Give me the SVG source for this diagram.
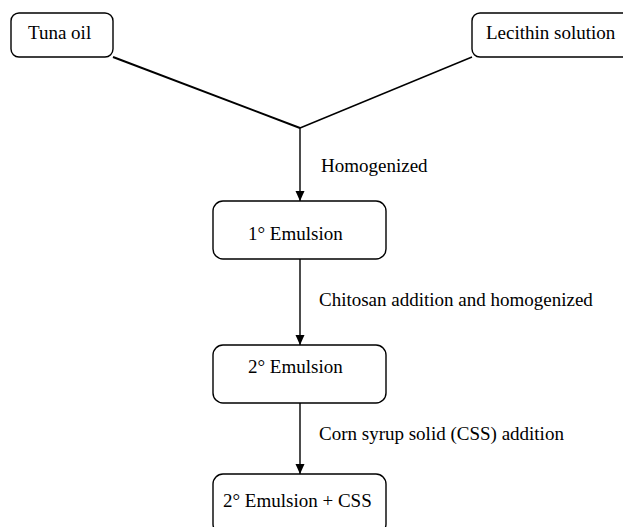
<svg xmlns="http://www.w3.org/2000/svg" width="623" height="527" viewBox="0 0 623 527">
<defs>
<style>
.box{fill:#fff;stroke:#000;stroke-width:1.4}
.t{font-family:"Liberation Serif","Times New Roman",serif;font-size:19px;fill:#000}
.ln{stroke:#000;stroke-width:1.4;fill:none}
</style>
<marker id="ah" viewBox="0 0 10 10" refX="10" refY="5" markerWidth="10" markerHeight="10" markerUnits="userSpaceOnUse" orient="auto"><path d="M0,0.5 L10,5 L0,9.5 Z" fill="#000"/></marker>
</defs>
<rect width="623" height="527" fill="#fff"/>
<g id="connectors">
<line class="ln" x1="113" y1="57" x2="300" y2="128" style="stroke-width:2"/>
<line class="ln" x1="472" y1="57" x2="300" y2="128"/>
<line class="ln" x1="300" y1="128" x2="300" y2="201" marker-end="url(#ah)"/>
<line class="ln" x1="300" y1="259" x2="300" y2="345" marker-end="url(#ah)"/>
<line class="ln" x1="300" y1="403" x2="300" y2="474" marker-end="url(#ah)"/>
<text class="t" x="321" y="172">Homogenized</text>
<text class="t" x="319" y="306">Chitosan addition and homogenized</text>
<text class="t" x="319" y="440">Corn syrup solid (CSS) addition</text>
</g>
<g id="tuna">
<rect class="box" x="11" y="13" width="102" height="44" rx="8"/>
<text class="t" x="28" y="39">Tuna oil</text>
</g>
<g id="lecithin">
<rect class="box" x="472" y="13" width="160" height="44" rx="8"/>
<text class="t" x="486" y="39">Lecithin solution</text>
</g>
<g id="emulsion1">
<rect class="box" x="213" y="201" width="173" height="58" rx="10"/>
<text class="t" x="248" y="240">1° Emulsion</text>
</g>
<g id="emulsion2">
<rect class="box" x="213" y="345" width="173" height="58" rx="10"/>
<text class="t" x="248" y="373">2° Emulsion</text>
</g>
<g id="emulsion2css">
<rect class="box" x="213" y="474" width="173" height="60" rx="10"/>
<text class="t" x="223" y="507">2° Emulsion + CSS</text>
</g>
</svg>
